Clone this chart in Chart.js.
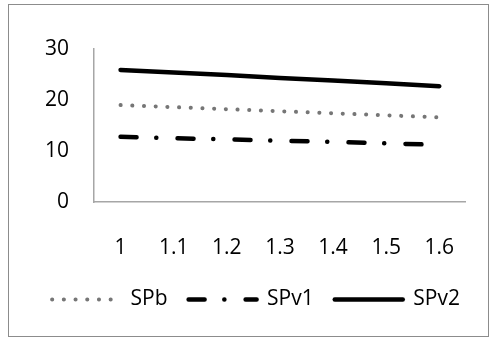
<!DOCTYPE html>
<html><head><meta charset="utf-8">
<script src="https://cdn.jsdelivr.net/npm/chart.js@4/dist/chart.umd.min.js"></script>
<style>
html,body{margin:0;padding:0;background:#fff;}
#box{position:absolute;left:8px;top:4px;width:479px;height:331px;border:1px solid #8c8c8c;}
canvas{display:block;}
</style></head><body>
<div id="box"><canvas id="c" width="479" height="331"></canvas></div>
<script>
const categories = ["1","1.1","1.2","1.3","1.4","1.5","1.6"];
const spb  = [19.0, 18.6, 18.2, 17.8, 17.4, 17.0, 16.6];
const spv1 = [12.8, 12.5, 12.3, 12.0, 11.8, 11.5, 11.2];
const spv2 = [25.9, 25.4, 24.9, 24.3, 23.8, 23.3, 22.7];
const yTicks = [0, 10, 20, 30];

const FONT = {family: "'Open Sans', sans-serif", size: 21};

const shiftLegend = {
  id: 'shiftLegend',
  afterLayout(chart){
    if (chart.legend) { chart.legend.left += 14; chart.legend.right += 14; }
  }
};

new Chart(document.getElementById('c'), {
  type: 'line',
  data: {
    labels: categories,
    datasets: [
      {label:'SPb', data: spb, borderColor:'#767676', borderWidth:4, borderDash:[0.1, 11.6], borderCapStyle:'round', pointRadius:0, fill:false},
      {label:'SPv1', data: spv1, borderColor:'#000', borderWidth:4.5, borderDash:[16, 19.7, 0.1, 21.2], borderCapStyle:'round', pointRadius:0, fill:false},
      {label:'SPv2', data: spv2, borderColor:'#000', borderWidth:4.5, borderCapStyle:'round', pointRadius:0, fill:false}
    ]
  },
  plugins: [shiftLegend],
  options: {
    responsive:false, animation:false,
    layout:{padding:{left:0, right:13, top:44, bottom:16}},
    plugins:{
      tooltip:{enabled:false},
      legend:{
        position:'bottom',
        labels:{
          font:FONT, color:'#000', usePointStyle:true, pointStyleWidth:68, padding:21,
          generateLabels(chart){
            return chart.data.datasets.map((d,i)=>({
              text:d.label, fillStyle:d.borderColor, strokeStyle:d.borderColor,
              lineWidth:d.borderWidth, lineDash:d.borderDash||[], lineCap:'round',
              pointStyle:'line', datasetIndex:i, hidden:false, fontColor:'#000'
            }));
          }
        }
      }
    },
    scales:{
      x:{
        offset:true,
        grid:{display:false, drawTicks:false},
        border:{color:'#a6a6a6', width:1.5},
        ticks:{font:FONT, color:'#000', padding:33, maxRotation:0},
        afterFit(s){ s.height = 66; }
      },
      y:{
        min:0, max:30,
        afterBuildTicks(s){ s.ticks = yTicks.map(v=>({value:v})); },
        grid:{display:false, drawTicks:false},
        border:{color:'#a6a6a6', width:1.5},
        ticks:{font:FONT, color:'#000', padding:25},
        afterFit(s){ s.width = 85; }
      }
    }
  }
});
</script>
</body></html>
